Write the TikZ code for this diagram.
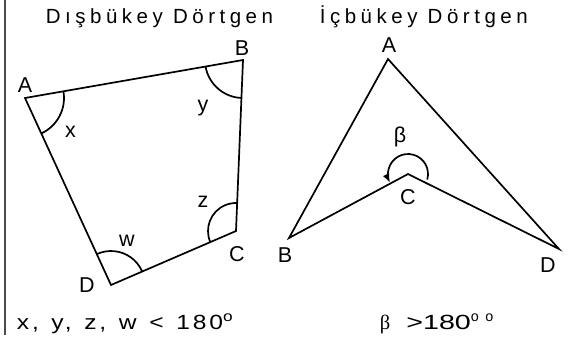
\documentclass[tikz,border=0pt]{standalone}
\usepackage{fontspec}
\setmainfont{Liberation Sans}
\newfontfamily\spacedfont[LetterSpace=22]{Liberation Sans}
\newfontfamily\condfont[LetterSpace=14,WordSpace=1.3,FakeStretch=1.2]{Liberation Sans}
\newfontfamily\widefont[FakeStretch=1.4]{Liberation Sans}
\newfontfamily\seriffont{Liberation Serif}
\usepackage{tikz}
\usetikzlibrary{arrows.meta}

\begin{document}
\begin{tikzpicture}[x=1pt, y=-1pt, line width=1.7pt,
    lbl/.style={font=\fontsize{21.5}{22}\selectfont, anchor=base, inner sep=0pt},
    spaced/.style={font=\fontsize{20.5}{22}\selectfont\spacedfont, anchor=base west, inner sep=0pt}]
    \useasboundingbox (0,0) rectangle (570,338);
    \draw[line width=1.2pt, black!70] (5,0) -- (5,335);
    % konveks dortgen
    \coordinate (A1) at (25,98);
    \coordinate (B1) at (243,60);
    \coordinate (C1) at (236,231);
    \coordinate (D1) at (111,285);
    \draw[line join=miter] (A1) -- (B1) -- (C1) -- (D1) -- cycle;
    \foreach \v/\a/\b/\r in {A1/-9.9/65.3/39, B1/92.3/170.1/38, C1/156.6/272.3/28, D1/-114.7/-23.4/34} {
        \draw ([shift={(\a:\r)}]\v) arc[start angle=\a, end angle=\b, radius=\r];
    }
    \foreach \n/\t/\x/\y in {lA1/A/25/92, lB1/B/242/55, lC1/C/237/261, lD1/D/87/292,
                             lx/x/70.5/137, ly/y/203/111, lz/z/203/207, lw/w/127/246} {
        \node[lbl] (\n) at (\x,\y) {\t};
    }
    % konkav dortgen
    \coordinate (A2) at (388,59);
    \coordinate (B2) at (289,238);
    \coordinate (C2) at (408,174);
    \coordinate (D2) at (559,249);
    \draw[line join=miter] (A2) -- (B2) -- (C2) -- (D2) -- cycle;
    \draw[-{Latex[length=9pt,width=7pt]}] ([shift={(16:20)}]C2) arc[start angle=16, end angle=-206, radius=20];
    \foreach \n/\t/\x/\y in {lA2/A/389/52, lB2/B/285/262, lC2/C/408/204, lD2/D/548/272, lbeta/β/400/142} {
        \node[lbl] (\n) at (\x,\y) {\t};
    }
    % basliklar
    \node[spaced] (title1) at (45,23) {Dışbükey Dörtgen};
    \node[spaced] (title2) at (319,23) {İçbükey Dörtgen};
    \node[spaced, font=\fontsize{20.5}{22}\selectfont\condfont] (cond1) at (16,329) {x, y, z, w < 180\textsuperscript{o}};
    \node[lbl, anchor=base west, font=\fontsize{20.5}{22}\selectfont] (cond2) at (379,329)
        {{\seriffont β}\hspace{16pt}{\widefont >180}\textsuperscript{o}\hspace{6pt}\textsuperscript{o}};
\end{tikzpicture}
\end{document}
